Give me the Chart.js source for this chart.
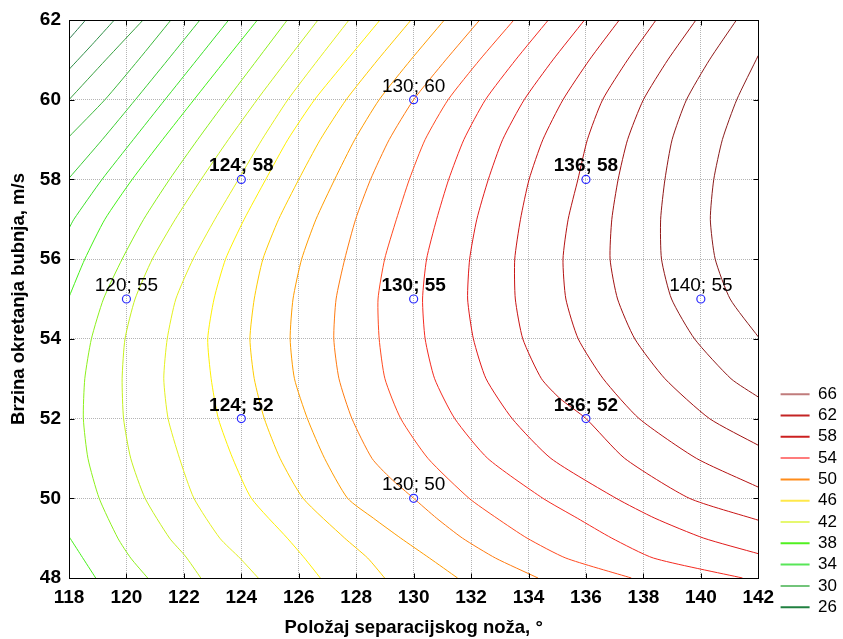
<!DOCTYPE html>
<html><head><meta charset="utf-8">
<script src="https://cdn.jsdelivr.net/npm/chart.js@4.4.1/dist/chart.umd.min.js"></script>
<style>html,body{margin:0;padding:0;background:#fff;}</style>
</head><body>
<canvas id="c" width="843" height="639"></canvas>
<script>
// ---- axis ticks ----
const xTicks = [118,120,122,124,126,128,130,132,134,136,138,140,142];
const yTicks = [48,50,52,54,56,58,60,62];
const legendLevels = [66,62,58,54,50,46,42,38,34,30,26];

// ---- design points ----
const designX = [120,124,124,130,130,130,136,136,140];
const designY = [55,52,58,50,55,60,52,58,55];
const designReps = [1,2,2,1,5,1,2,2,1];

// ---- contour lines, [x, y] ----
const c26 = [[118.58,62],[118,61.52]];
const c28 = [[119.58,62],[118.8,61.38],[118,60.76]];
const c30 = [[120.58,62],[119.28,61],[118,60]];
const c32 = [[121.55,62],[120.42,61],[119.25,60],[118,59.07]];
const c34 = [[122.56,62],[121.44,61],[120.31,60],[119.16,59],[118,58.03]];
const c36 = [[123.56,62],[122.45,61],[121.34,60],[120.24,59],[119.15,58],[118.17,57],[118,56.77]];
const c38 = [[124.56,62],[123.45,61],[122.35,60],[121.26,59],[120.2,58],[119.25,57],[118.55,56],[118,55.05]];
const c38b = [[118,49.04],[118.42,48.57],[118.93,48]];
const c40 = [[125.6,62],[124.55,61],[123.5,60],[122.48,59],[121.5,58],[120.6,57],[119.85,56],[119.2,55],[118.78,54],[118.55,53],[118.5,52],[118.66,51],[119.05,50],[119.7,49],[120.15,48.5],[120.74,48]];
const c42 = [[126.67,62],[125.6,61],[124.55,60],[123.55,59],[122.6,58],[121.7,57],[120.9,56],[120.3,55],[119.95,54],[119.85,53],[119.9,52],[120.15,51],[120.65,50],[121.5,49],[122.05,48.55],[122.59,48]];
const c44 = [[127.75,62],[126.67,61],[125.62,60],[124.72,59],[123.9,58],[123.08,57],[122.32,56],[121.72,55],[121.42,54],[121.3,53],[121.45,52],[121.85,51],[122.35,50],[123.25,49],[123.95,48.5],[124.59,48]];
const c46 = [[128.83,62],[127.68,61],[126.55,60],[125.62,59],[124.85,58],[124.1,57],[123.45,56],[123.05,55],[122.83,54],[122.95,53],[123.2,52],[123.7,51],[124.35,50],[125.6,49],[126.2,48.5],[126.75,48]];
const c48 = [[129.91,62],[128.75,61],[127.65,60],[126.75,59],[126.0,58],[125.3,57],[124.75,56],[124.45,55],[124.3,54],[124.45,53],[124.8,52],[125.35,51],[126.15,50],[127.6,49],[128.4,48.5],[128.99,48]];
const c50 = [[131.07,62],[129.9,61],[128.8,60],[127.95,59],[127.25,58],[126.6,57],[126.1,56],[125.8,55],[125.7,54],[125.85,53],[126.3,52],[126.9,51],[127.7,50],[128.6,49.5],[129.55,49],[130.55,48.5],[131.53,48]];
const c52 = [[132.3,62],[131.12,61],[130.0,60],[129.15,59],[128.5,58],[127.98,57],[127.6,56],[127.3,55],[127.22,54],[127.4,53],[127.85,52],[128.55,51],[129.2,50.5],[130.0,50],[130.8,49.5],[131.7,49],[132.85,48.5],[134.33,48]];
const c54 = [[133.49,62],[132.3,61],[131.2,60],[130.4,59],[129.85,58],[129.4,57],[128.99,56],[128.76,55],[128.8,54],[129.0,53],[129.55,52],[130.5,51],[131.93,50],[132.9,49.5],[133.95,49],[135.3,48.5],[137.58,48]];
const c56 = [[134.69,62],[133.55,61],[132.5,60],[131.75,59],[131.22,58],[130.8,57],[130.45,56],[130.31,55],[130.4,54],[130.73,53],[131.43,52],[132.58,51],[134.5,50],[135.7,49.5],[136.9,49],[138.35,48.5],[141.45,48]];
const c58 = [[135.95,62],[134.85,61],[133.85,60],[133.1,59],[132.6,58],[132.2,57],[131.95,56],[131.88,55],[132.08,54],[132.52,53],[133.43,52],[134.78,51],[137.05,50],[138.4,49.5],[140.1,49],[142,48.61]];
const c60 = [[137.16,62],[136.12,61],[135.2,60],[134.5,59],[134.02,58],[133.72,57],[133.52,56],[133.54,55],[133.8,54],[134.45,53],[135.1,52.5],[136.0,52],[137.35,51],[139.6,50],[142,49.45]];
const c62 = [[138.44,62],[137.45,61],[136.58,60],[136.05,59],[135.72,58],[135.38,57],[135.2,56],[135.3,55],[135.73,54],[136.6,53],[137.85,52],[139.85,51],[142,50.28]];
const c64 = [[139.83,62],[138.85,61],[138.0,60],[137.45,59],[137.12,58],[136.9,57],[136.84,56],[137.1,55],[137.7,54],[138.75,53],[140.3,52],[142,51.33]];
const c66 = [[141.24,62],[140.3,61],[139.5,60],[139.0,59],[138.75,58],[138.6,57],[138.63,56],[138.98,55],[139.78,54],[141.05,53],[142,52.54]];
const c68 = [[142,61.11],[141.25,60],[140.75,59],[140.45,58],[140.33,57],[140.5,56],[141.02,55],[142,54.05]];

// ---- styling ----
const lineColors = {26:'#2e7d4f',28:'#2f8f48',30:'#38a040',32:'#3cb83c',34:'#3ccc34',36:'#3ce02a',38:'#44f018',40:'#8cf01c',42:'#c4f020',44:'#e4f020',46:'#fff000',48:'#ffcc00',50:'#ff9c00',52:'#ff7a10',54:'#ff4a20',56:'#f42a20',58:'#e01a1a',60:'#c81414',62:'#b41212',64:'#a01212',66:'#901818',68:'#8a1c1c'};
const legendColors = {66:'#c07c7c',62:'#c42424',58:'#cc2020',54:'#ff7c7c',50:'#ff8c1a',46:'#ffe84a',42:'#e6f870',38:'#50f020',34:'#58e658',30:'#72c47a',26:'#208040'};

const contours = [
  [26,c26],[28,c28],[30,c30],[32,c32],[34,c34],[36,c36],[38,c38],[38,c38b],[40,c40],[42,c42],[44,c44],[46,c46],[48,c48],
  [50,c50],[52,c52],[54,c54],[56,c56],[58,c58],[60,c60],[62,c62],[64,c64],[66,c66],[68,c68]
];

const FONT = '"Liberation Sans", Arial, sans-serif';
const datasets = [];
datasets.push({
  type:'scatter', label:'points', order:0,
  data: designX.map((v,i)=>({x:v,y:designY[i]})),
  pointRadius:4, pointHoverRadius:4, pointBorderWidth:1.2,
  pointBorderColor:'#2a2aff', pointBackgroundColor:'rgba(255,255,255,0)', showLine:false
});
const seen = {};
contours.forEach(([lev,arr])=>{
  const first = !seen[lev]; seen[lev]=true;
  datasets.push({
    type:'scatter', label:String(lev), order:1, level:lev,
    inLegend: first && legendLevels.includes(lev),
    data: arr.map(p=>({x:p[0],y:p[1]})),
    showLine:true, borderColor:lineColors[lev], backgroundColor:lineColors[lev],
    borderWidth:1, pointRadius:0, pointHoverRadius:0, tension:0.2, fill:false
  });
});

const overlay = {
  id:'overlay',
  afterDatasetsDraw(chart){
    const {ctx, chartArea:a, scales:{x,y}} = chart;
    ctx.save();
    ctx.strokeStyle='#000'; ctx.lineWidth=1;
    const L=Math.round(a.left)+0.5, R=Math.round(a.right)+0.5, T=Math.round(a.top)+0.5, B=Math.round(a.bottom)+0.5;
    ctx.strokeRect(L,T,R-L,B-T);
    ctx.beginPath();
    xTicks.forEach(v=>{const px=Math.round(x.getPixelForValue(v))+0.5; ctx.moveTo(px,B); ctx.lineTo(px,B-5); ctx.moveTo(px,T); ctx.lineTo(px,T+5);});
    yTicks.forEach(v=>{const py=Math.round(y.getPixelForValue(v))+0.5; ctx.moveTo(L,py); ctx.lineTo(L+5,py); ctx.moveTo(R,py); ctx.lineTo(R-5,py);});
    ctx.stroke();
    ctx.fillStyle='#000'; ctx.textAlign='center'; ctx.textBaseline='alphabetic';
    designX.forEach((vx,i)=>{
      const vy=designY[i];
      ctx.font=(designReps[i]>1?'bold ':'')+'19px '+FONT;
      ctx.fillText(vx+'; '+vy, x.getPixelForValue(vx), y.getPixelForValue(vy)-8);
    });
    ctx.restore();
  }
};

new Chart(document.getElementById('c'), {
  data:{datasets},
  options:{
    responsive:false, animation:false, devicePixelRatio:1,
    layout:{padding:{top:20,right:-4,bottom:19,left:0}},
    plugins:{
      tooltip:{enabled:false},
      legend:{
        position:'right', align:'end',
        labels:{
          boxWidth:29, boxHeight:2, padding:4.3, color:'#000',
          font:{family:FONT,size:17},
          generateLabels(chart){
            const ds=chart.data.datasets;
            const items=[];
            legendLevels.forEach(lev=>{
              const i=ds.findIndex(d=>d.inLegend && d.level===lev);
              if(i>=0) items.push({text:String(lev), fillStyle:legendColors[lev], strokeStyle:legendColors[lev], lineWidth:0, hidden:false, datasetIndex:i, fontColor:'#000'});
            });
            return items;
          }
        }
      }
    },
    scales:{
      x:{type:'linear', position:'bottom', min:118, max:142,
        ticks:{stepSize:2, padding:8, color:'#000', font:{family:FONT,size:19,weight:'bold'}, maxRotation:0},
        grid:{color:'#b4b4b4', drawTicks:false}, border:{display:false, dash:[1,1]},
        title:{display:true, text:'Položaj separacijskog noža, °', color:'#000', font:{family:FONT,size:18.5,weight:'bold'}, padding:{top:0,bottom:-19}},
        afterFit(s){ s.height=42; }
      },
      y:{type:'linear', position:'left', min:48, max:62,
        ticks:{stepSize:2, padding:8, color:'#000', font:{family:FONT,size:19,weight:'bold'}},
        grid:{color:'#b4b4b4', drawTicks:false}, border:{display:false, dash:[1,1]},
        title:{display:true, text:'Brzina okretanja bubnja, m/s', color:'#000', font:{family:FONT,size:18.5,weight:'bold'}, padding:{top:8,bottom:0}},
        afterFit(s){ s.width=69; }
      },
      y2:{type:'linear', position:'right', min:0, max:1, display:true,
        grid:{display:false, drawTicks:false}, border:{display:false}, ticks:{display:false}, title:{display:false},
        afterFit(s){ s.width=18; }
      }
    }
  },
  plugins:[overlay]
});
</script>
</body></html>
